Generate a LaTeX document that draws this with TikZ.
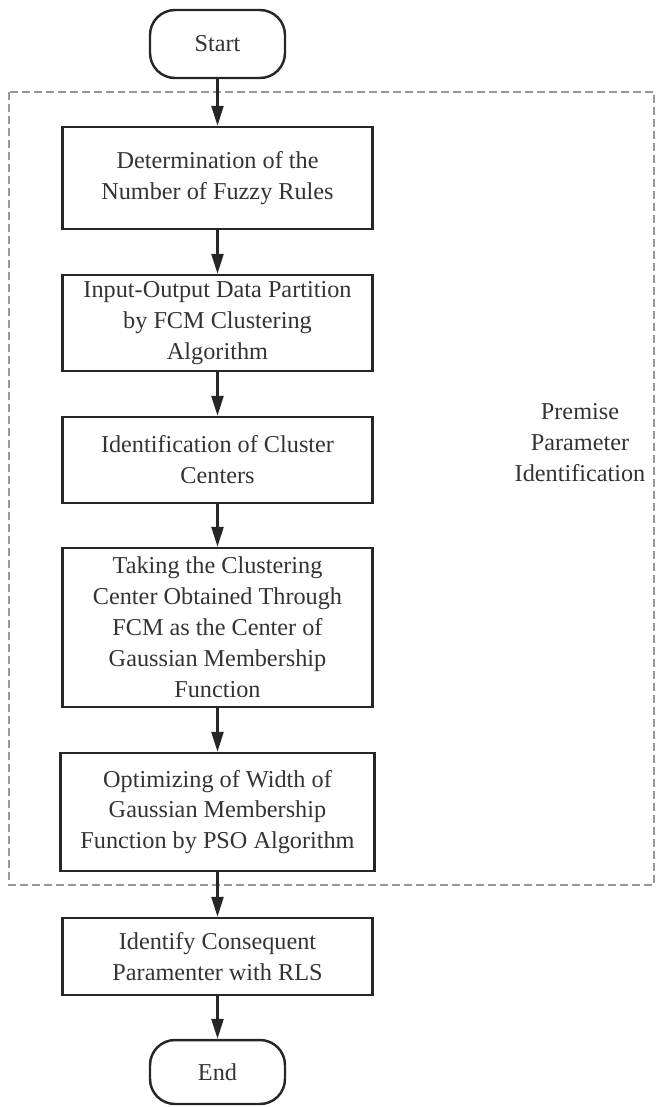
\documentclass[tikz,border=0pt]{standalone}
\usepackage{fontspec}
\setmainfont{Liberation Serif}
\usetikzlibrary{arrows.meta}

\begin{document}
\begin{tikzpicture}[x=0.02cm,y=-0.02cm,
	every node/.style={font=\fontsize{13.8}{17.6}\selectfont,text=black!80},
	procbox/.style={draw=black!85,line width=1.4pt,align=center,inner sep=0pt,minimum width=6.2cm},
	termbox/.style={draw=black!85,line width=1.4pt,rounded corners=0.5cm,inner sep=0pt,minimum width=2.7cm},
	flow/.style={draw=black!85,line width=1.4pt,arrows={-Triangle[length=0.4cm,width=0.24cm]}}]
	\useasboundingbox (0,0) rectangle (657,1107);
	% premise frame
	\draw [black!40,line width=0.9pt,dash pattern=on 0.16cm off 0.08cm] (9,92) rectangle (654,885);
	\node (premise) [align=center] at (580,443) {Premise\\Parameter\\Identification};
	% start and end
	\node (start) [termbox,minimum height=1.36cm] at (217.5,44) {Start};
	\node (end) [termbox,minimum height=1.28cm] at (217.5,1072) {End};
	% steps
	\node (rules) [procbox,minimum height=2.04cm] at (217.5,178) {Determination of the\\Number of Fuzzy Rules};
	\node (fcm) [procbox,minimum height=1.92cm] at (217.5,323) {Input-Output Data Partition\\by FCM Clustering\\Algorithm};
	\node (centers) [procbox,minimum height=1.72cm] at (217.5,460) {Identification of Cluster\\Centers};
	\node (gauss) [procbox,minimum height=3.18cm] at (217.5,627.5) {Taking the Clustering\\Center Obtained Through\\FCM as the Center of\\Gaussian Membership\\Function};
	\node (pso) [procbox,minimum height=2.36cm,minimum width=6.28cm] at (217.5,812) {Optimizing of Width of\\Gaussian Membership\\Function by PSO Algorithm};
	\node (rls) [procbox,minimum height=1.54cm] at (217.5,956.5) {Identify Consequent\\Paramenter with RLS};
	% arrows
	\draw [flow] (start) -- (rules);
	\draw [flow] (rules) -- (fcm);
	\draw [flow] (fcm) -- (centers);
	\draw [flow] (centers) -- (gauss);
	\draw [flow] (gauss) -- (pso);
	\draw [flow] (pso) -- (rls);
	\draw [flow] (rls) -- (end);
\end{tikzpicture}
\end{document}
